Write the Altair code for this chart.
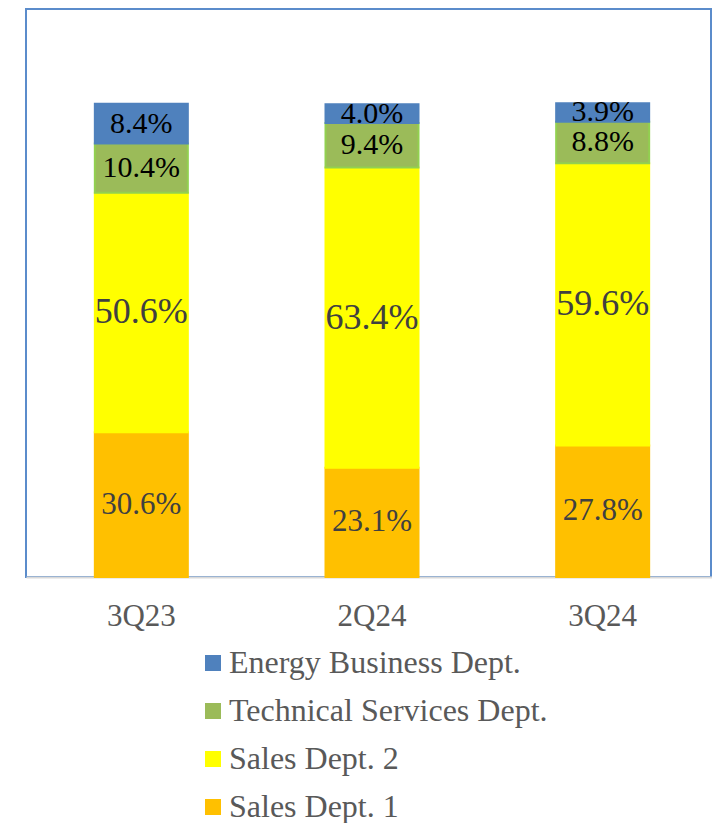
import altair as alt
import pandas as pd

quarters = ["3Q23", "2Q24", "3Q24"]
series = ["Sales Dept. 1", "Sales Dept. 2", "Technical Services Dept.", "Energy Business Dept."]
sales1 = [30.6, 23.1, 27.8]
sales2 = [50.6, 63.4, 59.6]
technical = [10.4, 9.4, 8.8]
energy = [8.4, 4.0, 3.9]

values_by_series = [sales1, sales2, technical, energy]
rows = []
for si, (s, vals) in enumerate(zip(series, values_by_series)):
    for q, v in zip(quarters, vals):
        rows.append({"quarter": q, "series": s, "value": v, "idx": si})
df = pd.DataFrame(rows)

legend_order = list(reversed(series))
fill_colors = ["#4F81BD", "#9BBB59", "#FFFF00", "#FFC000"]
stroke_colors = ["#4F81BD", "#92D050", "#FFFF00", "#FFC000"]

FONT = "Liberation Serif"

x_enc = alt.X(
    "quarter:N",
    sort=quarters,
    scale=alt.Scale(paddingInner=0, paddingOuter=0, range=[0, 692]),
    axis=alt.Axis(
        title=None, labelAngle=0, ticks=False, domainColor="#D9D9D9", domainWidth=2,
        labelFont=FONT, labelFontSize=31, labelColor="#595959", labelPadding=24, grid=False,
    ),
)
y_scale = alt.Scale(domain=[0, 120], nice=False)

base = alt.Chart(df)

bars = base.mark_bar(size=93, strokeWidth=2).encode(
    x=x_enc,
    y=alt.Y("value:Q", stack="zero", scale=y_scale, axis=None),
    fill=alt.Fill(
        "series:N",
        scale=alt.Scale(domain=legend_order, range=fill_colors),
        sort=legend_order,
        legend=alt.Legend(
            title=None, orient="none", legendX=171, legendY=638, direction="vertical",
            symbolType="square", symbolSize=256, symbolStrokeWidth=0,
            labelFont=FONT, labelFontSize=32, labelColor="#595959",
            rowPadding=16, labelOffset=0, labelLimit=500, padding=0,
        ),
    ),
    stroke=alt.Stroke(
        "series:N",
        scale=alt.Scale(domain=legend_order, range=stroke_colors),
        legend=None,
    ),
    order=alt.Order("idx:Q"),
)

stacked = base.transform_stack(
    stack="value", groupby=["quarter"], sort=[alt.SortField("idx")], as_=["v0", "v1"]
).transform_calculate(
    mid="(datum.v0 + datum.v1) / 2",
    label="format(datum.value, '.1f') + '%'",
)


def label_layer(names, size, color):
    return stacked.transform_filter(
        alt.FieldOneOfPredicate(field="series", oneOf=names)
    ).mark_text(
        font=FONT, baseline="middle", align="center", fontSize=size, color=color
    ).encode(
        x=x_enc,
        y=alt.Y("mid:Q", scale=y_scale, axis=None),
        text="label:N",
    )


labels_small = label_layer(["Technical Services Dept.", "Energy Business Dept."], 30, "#000000")
labels_s2 = label_layer(["Sales Dept. 2"], 36, "#404040")
labels_s1 = label_layer(["Sales Dept. 1"], 31, "#404040")

chart = alt.layer(bars, labels_small, labels_s2, labels_s1).properties(
    width=685, height=568,
    padding={"left": 18, "top": 1, "right": 1, "bottom": 246},
    autosize=alt.AutoSizeParams(type="none"),
).configure_view(
    stroke="#5B8CCB", strokeWidth=2
).configure_axis(grid=False)

chart.save("out.html", embed_options={"renderer": "svg", "actions": False})
